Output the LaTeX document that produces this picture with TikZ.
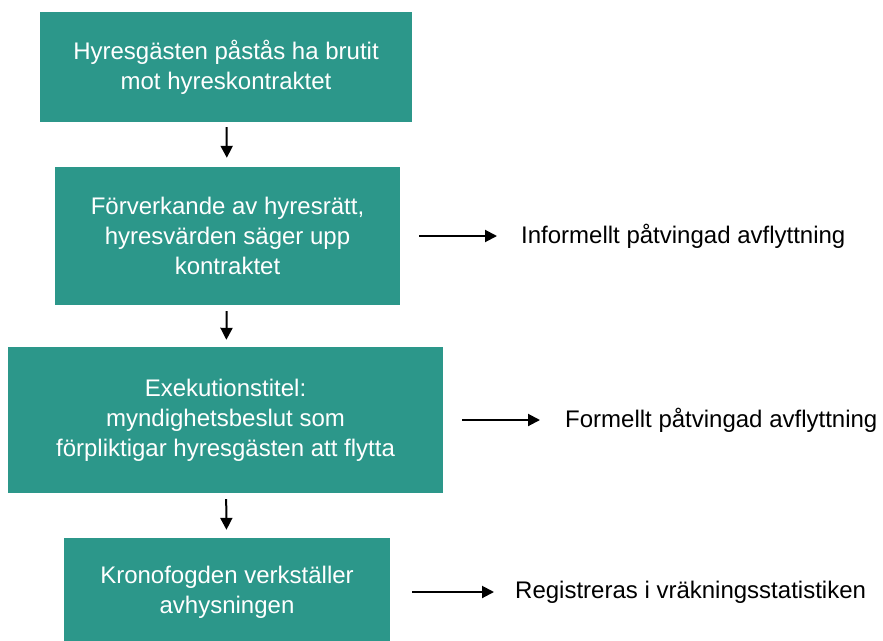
\documentclass[tikz,border=0pt]{standalone}
\usepackage{fontspec}
\setmainfont{Liberation Sans}
\usetikzlibrary{arrows.meta}
\definecolor{stepteal}{HTML}{2C978A}

\begin{document}
\begin{tikzpicture}[x=1pt,y=-1pt,
    stepbox/.style={fill=stepteal,text=white,align=center,inner sep=0pt,
                    font=\fontsize{24}{30}\selectfont},
    outcome/.style={anchor=west,inner sep=0pt,font=\fontsize{24}{30}\selectfont},
    flow/.style={line width=2pt,-{Triangle[length=12pt,width=12pt]}}]
\useasboundingbox (0,0) rectangle (883,640);
% steps
\node[stepbox,minimum width=372pt,minimum height=110pt] (claim) at (226,67)
  {Hyresgästen påstås ha brutit\\mot hyreskontraktet};
\node[stepbox,minimum width=345pt,minimum height=138pt] (forfeit) at (227.5,236)
  {Förverkande av hyresrätt,\\hyresvärden säger upp\\kontraktet};
\node[stepbox,minimum width=435pt,minimum height=146pt] (title) at (225.5,420)
  {Exekutionstitel:\\myndighetsbeslut som\\förpliktigar hyresgästen att flytta};
\node[stepbox,minimum width=326pt,minimum height=108pt] (eviction) at (227,592)
  {Kronofogden verkställer\\avhysningen};
% outcomes
\node[outcome] (informal) at (521,236) {Informellt påtvingad avflyttning};
\node[outcome] (formal) at (565,420) {Formellt påtvingad avflyttning};
\node[outcome] (stats) at (515,592) {Registreras i vräkningsstatistiken};
\coordinate (informalfrom) at (419,236);
\coordinate (formalfrom) at (462,420);
\coordinate (statsfrom) at (412,592);
% arrows
\draw[flow,shorten <=5pt,shorten >=9pt] (claim) -- (forfeit);
\draw[flow,shorten <=6pt,shorten >=7pt] (forfeit) -- (title);
\draw[flow,shorten <=6pt,shorten >=8pt] (title) -- (eviction);
\draw[flow,shorten >=24pt] (informalfrom) -- (informal.west);
\draw[flow,shorten >=25pt] (formalfrom) -- (formal.west);
\draw[flow,shorten >=21pt] (statsfrom) -- (stats.west);
\end{tikzpicture}
\end{document}
